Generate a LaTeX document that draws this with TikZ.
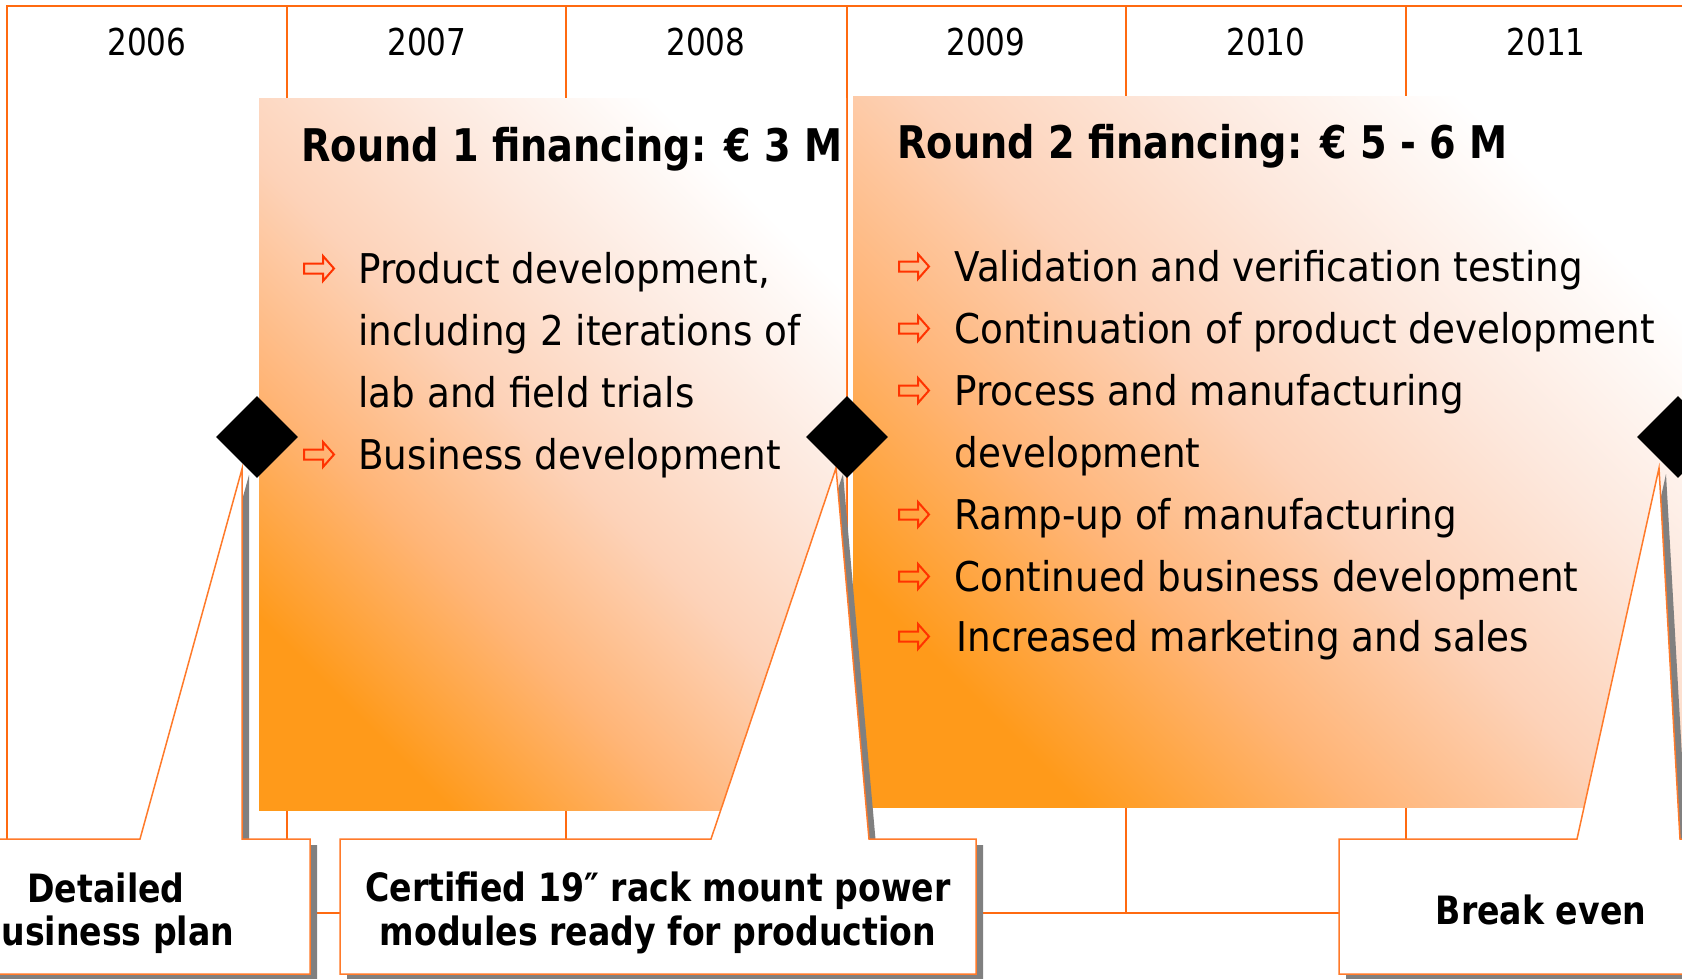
\documentclass[tikz,border=0pt]{standalone}
\usepackage{fontspec}
\setmainfont{DejaVu Sans}[FakeStretch=0.91]
\newfontfamily\bfam{DejaVu Sans}[FakeStretch=0.85]
\newfontfamily\yfam{DejaVu Sans}[FakeStretch=0.84]
\usetikzlibrary{shapes.geometric}
\definecolor{gridor}{HTML}{FF6A10}
\definecolor{lineor}{HTML}{FF7A2A}
\definecolor{bulletred}{HTML}{FF3300}
\definecolor{shadowgray}{HTML}{808080}
\definecolor{oA}{HTML}{FF9A1A}
\definecolor{oB}{HTML}{FFB577}
\definecolor{oC}{HTML}{FDD2B8}
\definecolor{oD}{HTML}{FDE8DD}
\pgfdeclarehorizontalshading{rshade}{100bp}{color(0bp)=(oA); color(25bp)=(oA); color(38bp)=(oB); color(50bp)=(oC); color(62bp)=(oD); color(75bp)=(white); color(100bp)=(white)}
\tikzset{
  gridline/.style={draw=gridor, line width=1pt},
  roundbox/.style={shading=rshade, shading angle=45, draw=none},
  callout/.style={fill=white, draw=lineor, line width=0.75pt, line join=miter},
  cshadow/.style={fill=shadowgray, draw=none, shift={(7,6)}},
  yearlbl/.style={font=\yfam\fontsize{18.5}{22}\selectfont, inner sep=0pt},
  ttl/.style={font=\bfam\bfseries\fontsize{22.5}{27}\selectfont, anchor=base west, inner sep=0pt},
  itm/.style={font=\fontsize{20.5}{31}\selectfont, anchor=base west, inner sep=0pt},
  ctext/.style={font=\bfam\bfseries\fontsize{19.5}{21.75}\selectfont, align=center, inner sep=0pt},
  milestone/.style={diamond, fill=black, draw=none, inner sep=0pt, minimum width=41pt, minimum height=41pt},
  barrow/.pic={\draw[bulletred, line width=1pt, line join=miter] (0,-5) -- (19,-5) -- (19,-12.5) -- (30,0) -- (19,12.5) -- (19,5) -- (0,5) -- cycle;}
}
\begin{document}
\begin{tikzpicture}[x=0.5pt,y=-0.5pt]
\useasboundingbox (0,0) rectangle (1682,979);
\clip (0,0) rectangle (1682,979);
\fill[white] (0,0) rectangle (1682,979);
% grid
\draw[gridline] (7,913) -- (7,6) -- (1700,6);
\foreach \x in {287,566,847,1126,1406} \draw[gridline] (\x,6) -- (\x,913);
\draw[gridline] (-10,913) -- (1700,913);
% years
\node[yearlbl] (y2006) at (147,42) {2006};
\node[yearlbl] (y2007) at (427,42) {2007};
\node[yearlbl] (y2008) at (706,42) {2008};
\node[yearlbl] (y2009) at (986,42) {2009};
\node[yearlbl] (y2010) at (1266,42) {2010};
\node[yearlbl] (y2011) at (1546,42) {2011};
% round boxes
\path[roundbox] (259,99) rectangle (846,810);
\path[roundbox] (853,97) rectangle (1690,807);
% titles
\node[ttl] (t1) at (301,162) {Round 1 financing: € 3 M};
\node[ttl] (t2) at (897,159) {Round 2 financing: € 5 - 6 M};
% round 1 items
\pic at (304,268.5) {barrow};
\node[itm] (a1) at (358,283) {Product development,};
\node[itm] (a2) at (358,345) {including 2 iterations of};
\node[itm] (a3) at (358,407) {lab and field trials};
\pic at (304,454.5) {barrow};
\node[itm] (a4) at (358,469) {Business development};
% round 2 items
\pic at (899,266.5) {barrow};
\node[itm] (b1) at (954,281) {Validation and verification testing};
\pic at (899,328.5) {barrow};
\node[itm] (b2) at (954,343) {Continuation of product development};
\pic at (899,390.5) {barrow};
\node[itm] (b3) at (954,405) {Process and manufacturing};
\node[itm] (b4) at (954,467) {development};
\pic at (899,514.5) {barrow};
\node[itm] (b5) at (954,529) {Ramp-up of manufacturing};
\pic at (899,576.5) {barrow};
\node[itm] (b6) at (954,591) {Continued business development};
\pic at (899,636.5) {barrow};
\node[itm] (b7) at (956,651) {Increased marketing and sales};
% callout 1
\path[cshadow] (-98,839) -- (140,839) -- (242,469) -- (242,839) -- (310,839) -- (310,974) -- (-98,974) -- cycle;
\path[callout] (-98,839) -- (140,839) -- (242,469) -- (242,839) -- (310,839) -- (310,974) -- (-98,974) -- cycle;
\node[ctext] (c1) at (106,913) {Detailed\\business plan};
% callout 2
\path[cshadow] (340,839) -- (711,839) -- (836,468) -- (869,839) -- (976,839) -- (976,974) -- (340,974) -- cycle;
\path[callout] (340,839) -- (711,839) -- (836,468) -- (869,839) -- (976,839) -- (976,974) -- (340,974) -- cycle;
\node[ctext] (c2) at (658,913) {Certified 19″ rack mount power\\modules ready for production};
% callout 3
\path[cshadow] (1339,839) -- (1577,839) -- (1659,468) -- (1680,839) -- (1743,839) -- (1743,974) -- (1339,974) -- cycle;
\path[callout] (1339,839) -- (1577,839) -- (1659,468) -- (1680,839) -- (1743,839) -- (1743,974) -- (1339,974) -- cycle;
\node[ctext] (c3) at (1541,910) {Break even};
% milestones
\node[milestone] (d1) at (257,437) {};
\node[milestone] (d2) at (847,437) {};
\node[milestone] (d3) at (1678,437) {};
\end{tikzpicture}
\end{document}
